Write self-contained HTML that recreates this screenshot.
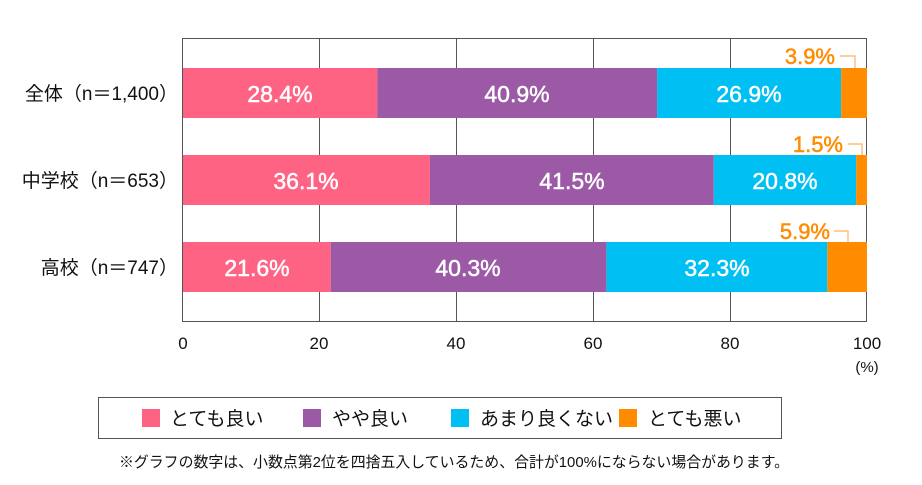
<!DOCTYPE html>
<html><head><meta charset="utf-8"><style>
body{margin:0;background:#fff}
svg{display:block}
text{font-family:"Liberation Sans","Noto Sans CJK JP",sans-serif}
</style></head><body>
<svg width="922" height="485" xmlns="http://www.w3.org/2000/svg">
<g stroke="#555" stroke-width="1">
<line x1="319.5" y1="38" x2="319.5" y2="322"/>
<line x1="456.5" y1="38" x2="456.5" y2="322"/>
<line x1="593.5" y1="38" x2="593.5" y2="322"/>
<line x1="730.5" y1="38" x2="730.5" y2="322"/>
</g>
<rect x="182.5" y="38.5" width="684" height="283" fill="none" stroke="#555"/>
<rect x="183" y="68" width="194.3" height="50" fill="#ff6384"/>
<rect x="377.3" y="68" width="279.8" height="50" fill="#9b59a6"/>
<rect x="657.1" y="68" width="184" height="50" fill="#00bff3"/>
<rect x="841.1" y="68" width="25.9" height="50" fill="#ff8c00"/>
<rect x="183" y="155" width="246.9" height="50" fill="#ff6384"/>
<rect x="429.9" y="155" width="283.9" height="50" fill="#9b59a6"/>
<rect x="713.8" y="155" width="142.3" height="50" fill="#00bff3"/>
<rect x="856.1" y="155" width="10.9" height="50" fill="#ff8c00"/>
<rect x="183" y="242" width="147.7" height="50" fill="#ff6384"/>
<rect x="330.7" y="242" width="275.7" height="50" fill="#9b59a6"/>
<rect x="606.4" y="242" width="220.9" height="50" fill="#00bff3"/>
<rect x="827.3" y="242" width="39.7" height="50" fill="#ff8c00"/>
<g fill="#fff" font-size="23" text-anchor="middle" stroke="#fff" stroke-width="0.5">
<text x="280" y="102">28.4%</text><text x="517" y="102">40.9%</text><text x="749" y="102">26.9%</text>
<text x="306" y="189">36.1%</text><text x="572" y="189">41.5%</text><text x="785" y="189">20.8%</text>
<text x="257" y="276">21.6%</text><text x="468" y="276">40.3%</text><text x="717" y="276">32.3%</text>
</g>
<g fill="#ff8c00" font-size="22" text-anchor="end" stroke="#ff8c00" stroke-width="0.5">
<text x="835" y="64">3.9%</text><text x="843" y="152">1.5%</text><text x="830" y="239">5.9%</text>
</g>
<g stroke="#ffb060" stroke-width="1.2" fill="none">
<polyline points="840,56 855,56 855,68"/>
<polyline points="848,144 862,144 862,155"/>
<polyline points="834,231 848,231 848,242"/>
</g>
<g fill="#111" font-size="19" text-anchor="end">
<text x="178" y="100">全体（n＝1,400）</text>
<text x="178" y="187">中学校（n＝653）</text>
<text x="178" y="274">高校（n＝747）</text>
</g>
<g fill="#111" font-size="17" text-anchor="middle">
<text x="183" y="349">0</text><text x="319" y="349">20</text><text x="456" y="349">40</text>
<text x="593" y="349">60</text><text x="730" y="349">80</text><text x="867" y="349">100</text>
<text x="867" y="372" font-size="15">(%)</text>
</g>
<rect x="98.5" y="397.5" width="683" height="41" fill="none" stroke="#555"/>
<rect x="142" y="409" width="18" height="18" fill="#ff6384"/>
<rect x="303" y="409" width="18" height="18" fill="#9b59a6"/>
<rect x="451" y="409" width="18" height="18" fill="#00bff3"/>
<rect x="619" y="409" width="18" height="18" fill="#ff8c00"/>
<g fill="#111" font-size="19">
<text x="170" y="425">とても良い</text><text x="332" y="425">やや良い</text>
<text x="480" y="425">あまり良くない</text><text x="648" y="425">とても悪い</text>
</g>
<text x="119" y="467" font-size="15" fill="#111" textLength="670" lengthAdjust="spacingAndGlyphs">※グラフの数字は、小数点第2位を四捨五入しているため、合計が100%にならない場合があります。</text>
</svg>
</body></html>
